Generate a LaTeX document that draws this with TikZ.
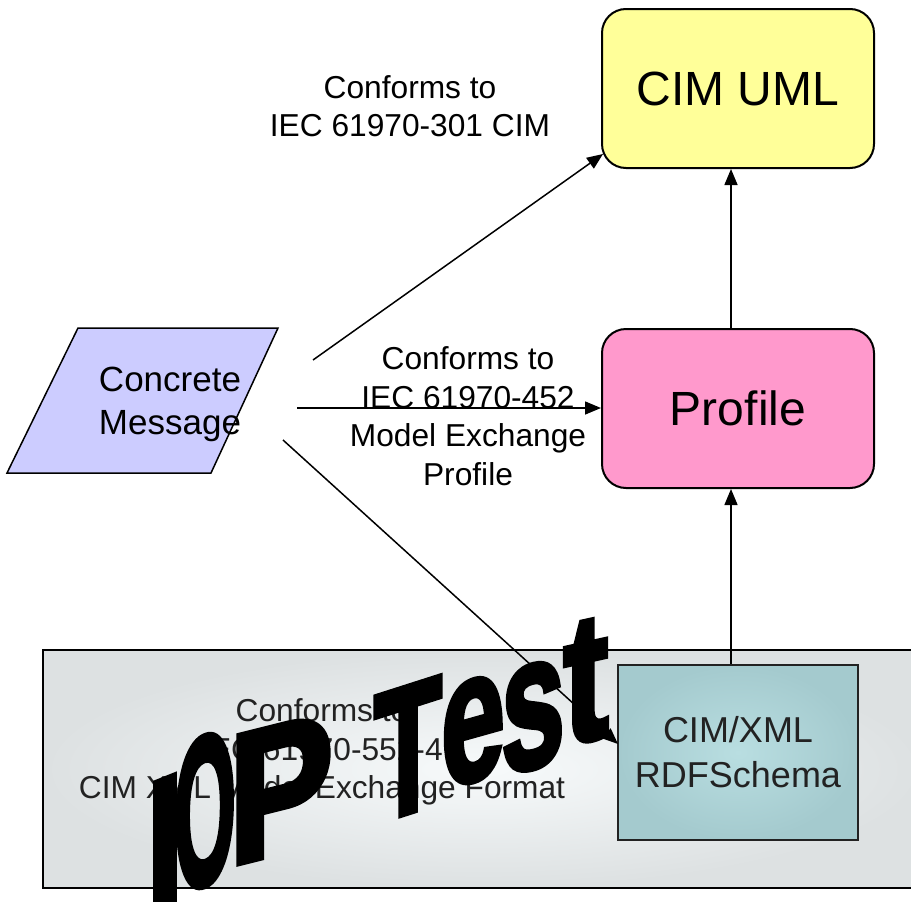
\documentclass[tikz,border=0pt]{standalone}
\usepackage{fontspec}
\setmainfont{Liberation Sans}
\newfontfamily\wafont[FakeBold=3]{Liberation Sans}
\usetikzlibrary{arrows.meta}
\definecolor{cyel}{HTML}{FFFF99}
\definecolor{cpink}{HTML}{FF99CC}
\definecolor{clav}{HTML}{CCCCFF}
\definecolor{cdark}{HTML}{222222}
\definecolor{cgin}{HTML}{F7FAFB}
\definecolor{cgout}{HTML}{DDE1E2}
\definecolor{ctin}{HTML}{B9DEE1}
\definecolor{ctout}{HTML}{A4CACE}
\newcommand\wlet[7]{%
  \begin{scope}[shift={(#1,#2)}, yslant=#3, xscale=#4, yscale=#5]
    \node[anchor=base, inner sep=0pt, transform shape,
          font=\wafont\bfseries\fontsize{100}{100}\selectfont] (#7) at (0,0) {#6};
  \end{scope}}
\begin{document}
\begin{tikzpicture}[x=1pt,y=-1pt,
  box/.style={draw, line width=2pt, rounded corners=24pt, minimum width=272pt,
              minimum height=159pt, font=\fontsize{48}{56}\selectfont},
  lbl/.style={align=center, inner sep=0pt, font=\fontsize{31.7}{38.5}\selectfont},
  arr/.style={-{Triangle[length=16pt,width=13pt]}, line width=1.5pt}]
\useasboundingbox (0,0) rectangle (911,902);

% bottom format box
\node[draw, line width=2pt, inner color=cgin, outer color=cgout,
      minimum width=880pt, minimum height=238pt, anchor=north west] (fmt) at (42,649) {};

% main boxes
\node[box, fill=cyel] (cimuml) at (738,88.5) {CIM UML};
\node[box, fill=cpink] (profile) at (738,408.5) {Profile};
\node[draw=cdark, line width=2pt, inner color=ctin, outer color=ctout,
      minimum width=240pt, minimum height=175pt, align=center, text=cdark,
      font=\fontsize{36}{45}\selectfont] (cimxml) at (738,752.5) {CIM/XML\\RDFSchema};

% concrete message parallelogram
\draw[line width=1.5pt, fill=clav] (78,328) -- (278,328) -- (211,473) -- (7,473) -- cycle;
\node[align=center, inner sep=0pt, font=\fontsize{35}{43}\selectfont] (concrete) at (170,404) {Concrete\\Message};

% labels
\node[lbl] (l1) at (410,106) {Conforms to\\IEC 61970-301 CIM};
\node[lbl] (l2) at (468,416) {Conforms to\\IEC 61970-452\\Model Exchange\\Profile};
\node[lbl, text=cdark] (l3) at (322,752) {Conforms to\\IEC 61970-552-4\\CIM XML Model Exchange Format};

% connectors
\coordinate (ax) at (731,0);
\coordinate (s1) at (313,360);
\coordinate (t1) at (603,154);
\coordinate (s2) at (297,408);
\coordinate (s3) at (283,440);
\coordinate (t3) at (618,744);
\draw[arr] (s1) -- (t1);
\draw[arr] (s2) -- (s2 -| profile.west);
\draw[arr] (s3) -- (t3);
\draw[arr] (cimxml.north -| ax) -- (profile.south -| ax);
\draw[arr] (profile.north -| ax) -- (cimuml.south -| ax);

% IOP Test word art
\wlet{165}{904}{0.40}{1.36}{1.82}{I}{wI}
\wlet{205}{884}{0.36}{0.80}{2.12}{O}{wO}
\wlet{281}{853}{0.25}{1.58}{1.86}{P}{wP}
\wlet{408}{813}{0.32}{1.12}{1.84}{T}{wT}
\wlet{473}{780}{0.28}{1.15}{1.86}{e}{we}
\wlet{533}{767}{0.25}{1.15}{1.90}{s}{ws}
\wlet{586}{740}{0.22}{1.36}{1.82}{t}{wt}
\end{tikzpicture}
\end{document}
